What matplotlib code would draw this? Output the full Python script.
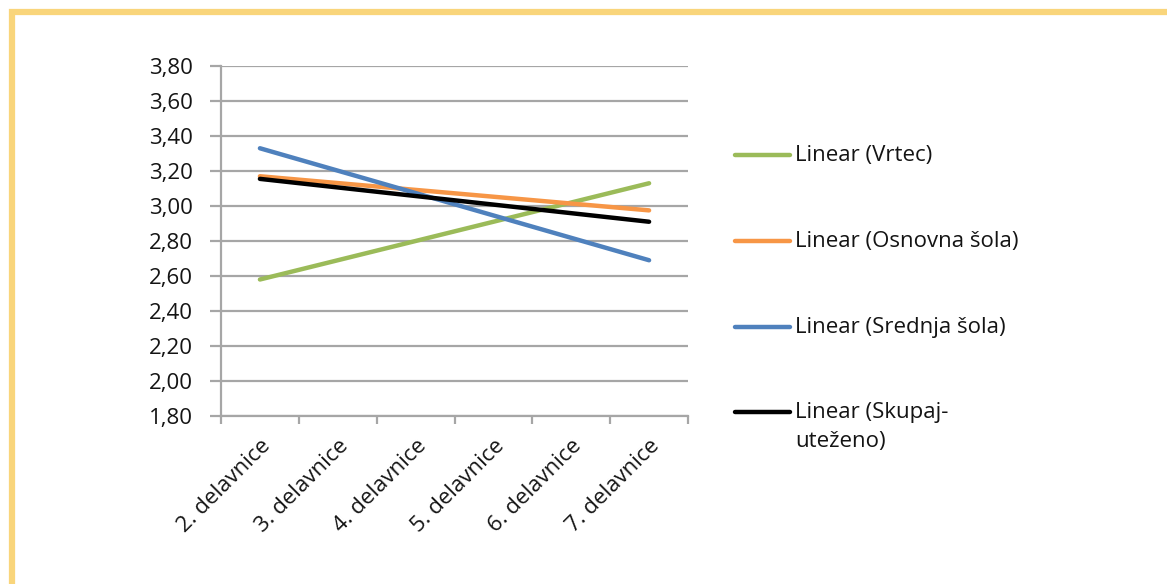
import matplotlib.pyplot as plt
from matplotlib.lines import Line2D
from matplotlib.patches import Rectangle

plt.rcParams['font.family'] = ['Open Sans', 'DejaVu Sans']

# categories (workshops)
categories = ["2. delavnice", "3. delavnice", "4. delavnice",
              "5. delavnice", "6. delavnice", "7. delavnice"]

# linear trend lines: value at first and last workshop
series_names = ["Linear (Vrtec)", "Linear (Osnovna šola)",
                "Linear (Srednja šola)", "Linear (Skupaj-\nuteženo)"]
trend_start = [2.58, 3.17, 3.33, 3.155]
trend_end = [3.13, 2.975, 2.69, 2.91]
colors = ["#9BBB59", "#F79646", "#4F81BD", "#000000"]

y_ticks = [1.8, 2.0, 2.2, 2.4, 2.6, 2.8, 3.0, 3.2, 3.4, 3.6, 3.8]

W, H = 1167, 584
FS = 16
TXT = "#141414"
fig = plt.figure(figsize=(W / 100, H / 100), dpi=100)
ax = fig.add_axes([221 / W, 1 - 416 / H, (688 - 221) / W, (416 - 66) / H])

# yellow frame (only top and left visible)
fig.add_artist(Rectangle((11.5 / W, -0.1), 1.2, 1.1 - 11.5 / H, transform=fig.transFigure,
                         fill=False, edgecolor="#F9D57B", linewidth=4.5))

gray = "#A6A6A6"
for name, s, e, c in zip(series_names, trend_start, trend_end, colors):
    ax.plot([0, len(categories) - 1], [s, e], color=c, linewidth=3.2,
            solid_capstyle="round", zorder=3)

ax.set_xlim(-0.5, len(categories) - 0.5)
ax.set_ylim(y_ticks[0], y_ticks[-1])
ax.set_yticks(y_ticks)
ax.set_yticklabels([f"{v:.2f}".replace(".", ",") for v in y_ticks])
ax.yaxis.grid(True, color=gray, linewidth=1.6)
ax.set_axisbelow(True)

# category boundaries as major ticks, names on minor ticks
ax.set_xticks([i - 0.5 for i in range(len(categories) + 1)])
ax.set_xticklabels([])
ax.set_xticks(range(len(categories)), minor=True)
ax.set_xticklabels(categories, minor=True, rotation=45, ha="right", va="top",
                   rotation_mode="anchor")
ax.tick_params(axis="x", which="minor", length=0, pad=14)
ax.tick_params(axis="x", which="major", length=6, width=1.6, color=gray)
ax.tick_params(axis="y", length=8, width=1.6, color=gray, pad=12)
ax.tick_params(which="both", labelsize=FS, labelcolor=TXT)

for side in ["top", "right"]:
    ax.spines[side].set_visible(False)
for side in ["left", "bottom"]:
    ax.spines[side].set_color(gray)
    ax.spines[side].set_linewidth(1.6)

# legend drawn by hand to keep the handle at the first text line
rows_y = [155, 241, 327, 412]
for name, c, y in zip(series_names, colors, rows_y):
    fig.add_artist(Line2D([735 / W, 790 / W], [1 - y / H, 1 - y / H], color=c,
                          linewidth=3.2, solid_capstyle="round"))
    fig.text(795 / W, 1 - (y - 10) / H, name, fontsize=FS, color=TXT,
             va="top", ha="left", linespacing=1.5)

fig.savefig("out.png", dpi=100, facecolor="white")
